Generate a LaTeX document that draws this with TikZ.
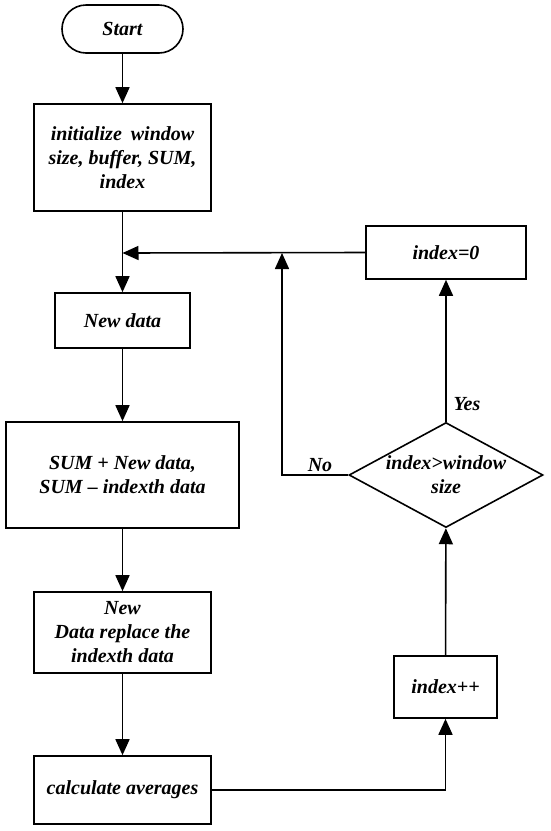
\documentclass[tikz,border=0pt]{standalone}
\usepackage{fontspec}
\setmainfont{Liberation Serif}
\usetikzlibrary{arrows.meta,shapes.geometric}
\begin{document}
\begin{tikzpicture}[x=1pt,y=-1pt,
  every node/.style={font=\fontsize{20}{24}\selectfont\bfseries\itshape},
  box/.style={draw,line width=1.6pt,align=center,inner sep=0pt},
  cond/.style={draw,diamond,line width=1.6pt,align=center,inner sep=0pt,minimum width=194pt,minimum height=105pt},
  flow/.style={line width=1.6pt,-{Triangle[length=16pt,width=14pt]}},
  plain/.style={line width=1.6pt}]
\useasboundingbox (0,0) rectangle (550,831);
\node[box,rounded corners=24pt,minimum width=121pt,minimum height=48pt] (start) at (122.5,29) {Start};
\node[box,minimum width=177pt,minimum height=107pt] (init) at (122.5,157.5) {initialize\hspace{9pt}window\\size, buffer, SUM,\\index};
\node[box,minimum width=135pt,minimum height=55pt] (new) at (122.5,320.5) {New data};
\node[box,minimum width=233pt,minimum height=106pt] (sum) at (122.5,475) {SUM + New data,\\SUM -- indexth data};
\node[box,minimum width=177pt,minimum height=81pt] (repl) at (122.5,632.5) {New\\Data replace the\\indexth data};
\node[box,minimum width=177pt,minimum height=68pt] (calc) at (122.5,790) {calculate averages};
\node[box,minimum width=103pt,minimum height=62pt] (inc) at (445.5,687) {index++};
\node[cond] (dec) at (446,475) {\makebox[0pt]{index>window}\\\makebox[0pt]{size}};
\node[box,minimum width=160pt,minimum height=53pt] (zero) at (446,252.5) {index=0};
\coordinate (merge) at (122.5,253);
\coordinate (nojoin) at (282,253);
\node (yes) at (467,404) {Yes};
\node (no) at (320,465) {No};
\draw[flow] (start) -- (init);
\draw[flow] (init) -- (new);
\draw[flow] (new) -- (sum);
\draw[flow] (sum) -- (repl);
\draw[flow] (repl) -- (calc);
\draw[flow] (calc.east) -| (inc.south);
\draw[flow] (inc) -- (dec);
\draw[flow] (dec) -- (zero);
\draw[flow] (dec.west) -| (nojoin);
\draw[flow] (zero.west) -- (merge);
\end{tikzpicture}
\end{document}
